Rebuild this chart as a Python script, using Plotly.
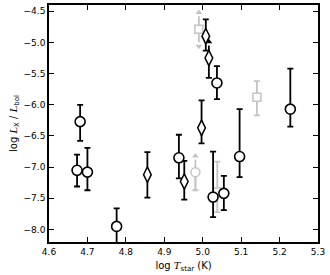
import plotly.graph_objects as go

# black circles
circ_x = [4.681, 4.673, 4.700, 4.776, 4.938, 5.027, 5.055, 5.037, 5.096, 5.228]
circ_y = [-6.27, -7.05, -7.08, -7.95, -6.85, -7.48, -7.42, -5.65, -6.83, -6.07]
circ_hi = [-6.00, -6.80, -6.69, -7.66, -6.48, -6.75, -7.14, -5.38, -6.07, -5.42]
circ_lo = [-6.58, -7.31, -7.37, -8.40, -7.18, -7.80, -7.69, -5.91, -7.16, -6.35]

# black diamonds
dia_x = [4.856, 4.952, 4.997, 5.008]
dia_y = [-7.12, -7.23, -6.37, -4.90]
dia_hi = [-6.76, -6.90, -5.93, -4.63]
dia_lo = [-7.49, -7.52, -6.62, -5.13]

# black diamond with lower limit (arrow up)
dlim_x = [5.016]
dlim_y = [-5.25]
dlim_tip = [-4.99]
dlim_lo = [-5.57]

# grey points
gsq_x = [5.141, 5.038]
gsq_y = [-5.88, -7.40]
gsq_hi = [-5.62, -6.91]
gsq_lo = [-6.17, -7.72]

gcl_x = [4.981]
gcl_y = [-7.08]
gcl_tip = [-6.82]
gcl_lo = [-7.37]

gdbl_x = [4.990]
gdbl_y = [-4.79]
gdbl_top = [-4.52]
gdbl_bot = [-5.06]

BLACK = "black"
GREY = "#c4c4c4"

fig = go.Figure()

def err(y, hi, lo):
    return ([h - v for h, v in zip(hi, y)], [v - l for v, l in zip(y, lo)])

# grey traces first (behind)
p, m = err(gsq_y, gsq_hi, gsq_lo)
fig.add_trace(go.Scatter(x=gsq_x, y=gsq_y, mode="markers",
    marker=dict(symbol="square", size=8, color="white", line=dict(color=GREY, width=1.5)),
    error_y=dict(type="data", array=p, arrayminus=m, color=GREY, thickness=1.8, width=3)))

# grey circle with lower limit
for x, y, t, l in zip(gcl_x, gcl_y, gcl_tip, gcl_lo):
    fig.add_trace(go.Scatter(x=[x, x], y=[l, t - 0.06], mode="lines",
        line=dict(color=GREY, width=1.8)))
    fig.add_trace(go.Scatter(x=[x], y=[t], mode="markers",
        marker=dict(symbol="triangle-up", size=6, color=GREY, line=dict(width=0))))
    fig.add_trace(go.Scatter(x=[x], y=[y], mode="markers",
        marker=dict(symbol="circle", size=9, color="white", line=dict(color=GREY, width=1.5)),
        error_y=dict(type="data", array=[0], arrayminus=[y - l], color=GREY, thickness=1.8, width=3)))

# grey square with double arrow
for x, y, t, b in zip(gdbl_x, gdbl_y, gdbl_top, gdbl_bot):
    fig.add_trace(go.Scatter(x=[x, x], y=[b + 0.06, t - 0.06], mode="lines",
        line=dict(color=GREY, width=1.8)))
    fig.add_trace(go.Scatter(x=[x], y=[t], mode="markers",
        marker=dict(symbol="triangle-up", size=6, color=GREY, line=dict(width=0))))
    fig.add_trace(go.Scatter(x=[x], y=[b], mode="markers",
        marker=dict(symbol="triangle-down", size=6, color=GREY, line=dict(width=0))))
    fig.add_trace(go.Scatter(x=[x], y=[y], mode="markers",
        marker=dict(symbol="square", size=8, color="white", line=dict(color=GREY, width=1.5))))

# black diamond with lower limit
for x, y, t, l in zip(dlim_x, dlim_y, dlim_tip, dlim_lo):
    fig.add_trace(go.Scatter(x=[x, x], y=[y, t - 0.06], mode="lines",
        line=dict(color=BLACK, width=1.8)))
    fig.add_trace(go.Scatter(x=[x], y=[t], mode="markers",
        marker=dict(symbol="triangle-up", size=6, color=BLACK, line=dict(width=0))))
    fig.add_trace(go.Scatter(x=[x], y=[y], mode="markers",
        marker=dict(symbol="diamond-tall", size=11, color="white", line=dict(color=BLACK, width=1.5)),
        error_y=dict(type="data", array=[0], arrayminus=[y - l], color=BLACK, thickness=1.8, width=3)))

p, m = err(dia_y, dia_hi, dia_lo)
fig.add_trace(go.Scatter(x=dia_x, y=dia_y, mode="markers",
    marker=dict(symbol="diamond-tall", size=11, color="white", line=dict(color=BLACK, width=1.5)),
    error_y=dict(type="data", array=p, arrayminus=m, color=BLACK, thickness=1.8, width=3)))

p, m = err(circ_y, circ_hi, circ_lo)
fig.add_trace(go.Scatter(x=circ_x, y=circ_y, mode="markers",
    marker=dict(symbol="circle", size=10, color="white", line=dict(color=BLACK, width=1.6)),
    error_y=dict(type="data", array=p, arrayminus=m, color=BLACK, thickness=1.8, width=3)))

serif = "font-family:'DejaVu Serif'"
fig.update_layout(
    width=330, height=275,
    margin=dict(l=49, r=12, t=5, b=33, autoexpand=False),
    paper_bgcolor="white", plot_bgcolor="white",
    showlegend=False,
    font=dict(family="DejaVu Sans", size=9, color="black"),
    xaxis=dict(range=[4.6, 5.3], dtick=0.1, tick0=4.6, tickformat=".1f",
               ticks="inside", ticklen=5, tickwidth=1, tickcolor="black",
               showline=True, linecolor="black", linewidth=1.5, mirror="allticks",
               showgrid=False, zeroline=False, automargin=False,
               title=dict(text="log <span style=\"" + serif + "\"><i>T</i></span><sub>star</sub> (K)",
                          font=dict(size=10), standoff=6)),
    yaxis=dict(range=[-8.2, -4.4], dtick=0.5, tick0=-8.0, tickformat=".1f",
               ticks="inside", ticklen=5, tickwidth=1, tickcolor="black",
               showline=True, linecolor="black", linewidth=1.5, mirror="allticks",
               showgrid=False, zeroline=False, automargin=False,
               title=dict(text="log <span style=\"" + serif + "\"><i>L</i></span><sub>X</sub> / <span style=\"" + serif + "\"><i>L</i></span><sub>bol</sub>",
                          font=dict(size=10), standoff=4)),
)

fig.write_html("out.html", config={"displayModeBar": False},
               post_script="document.body.style.margin='0';")
